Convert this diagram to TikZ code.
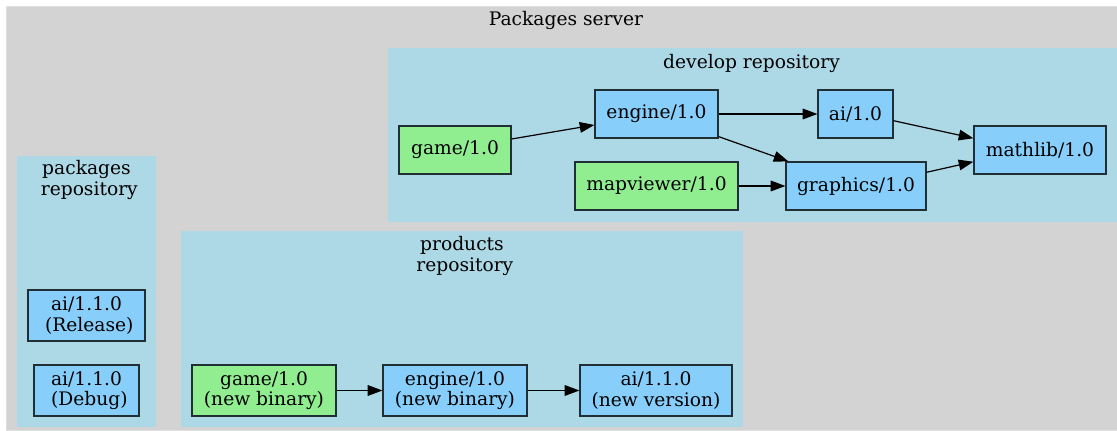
\documentclass[tikz,border=0pt]{standalone}
\usepackage{fontspec}
\setmainfont{DejaVu Serif}
\usetikzlibrary{arrows.meta}
\definecolor{lgray}{HTML}{D3D3D3}
\definecolor{lblue}{HTML}{ADD8E6}
\definecolor{lsky}{HTML}{87CEFA}
\definecolor{lgreen}{HTML}{90EE90}
\definecolor{edgec}{HTML}{1F2F33}
\tikzset{
  pkg/.style={draw=edgec, line width=0.9pt, rectangle, inner sep=0pt, align=center, font=\fontsize{14pt}{15.5pt}\selectfont},
  blue/.style={pkg, fill=lsky},
  green/.style={pkg, fill=lgreen},
  cluster/.style={fill=lblue, draw=none},
  title/.style={font=\fontsize{14pt}{15.5pt}\selectfont, align=center, inner sep=0pt},
  dep/.style={-{Triangle[length=11pt,width=8pt]}, line width=0.9pt, black}
}
\begin{document}
\begin{tikzpicture}[x=0.75pt,y=-0.75pt]
\useasboundingbox (0,0) rectangle (1117,431);
\fill[white] (0,0) rectangle (1117,431);
% outer cluster
\filldraw[fill=lgray, draw=lgray!70!white, line width=0.6pt] (6,6) rectangle (1120,430);
\node[title] (tserver) at (566,20) {Packages server};
% clusters
\fill[cluster] (388,48) rectangle (1117,222);
\node[title] (tdev) at (751.5,63) {develop repository};
\fill[cluster] (17,156) rectangle (156,427);
\node[title] (tpkg) at (86.5,180) {packages\\\hspace*{0.3em}repository};
\fill[cluster] (181,231) rectangle (743,427);
\node[title] (tprod) at (462,256) {products\\\hspace*{0.3em}repository};
% develop nodes
\node[green, minimum width=84pt, minimum height=36pt] (game) at (455,150) {game/1.0};
\node[blue, minimum width=92.25pt, minimum height=36pt] (engine) at (656.5,114) {engine/1.0};
\node[blue, minimum width=56.25pt, minimum height=36pt] (ai) at (855.5,114) {ai/1.0};
\node[blue, minimum width=99pt, minimum height=36pt] (mathlib) at (1040,150) {mathlib/1.0};
\node[green, minimum width=122.25pt, minimum height=36pt] (mapviewer) at (656.5,186) {mapviewer/1.0};
\node[blue, minimum width=105pt, minimum height=36pt] (graphics) at (856,186) {graphics/1.0};
% packages nodes
\node[blue, minimum width=87.75pt, minimum height=38.25pt] (airel) at (86.5,315.5) {ai/1.1.0\\\hspace*{0.3em}(Release)};
\node[blue, minimum width=78.75pt, minimum height=38.25pt] (aidbg) at (86.5,390.5) {ai/1.1.0\\\hspace*{0.3em}(Debug)};
% products nodes
\node[green, minimum width=108pt, minimum height=38.25pt] (gamenb) at (264,390.5) {game/1.0\\(new binary)};
\node[blue, minimum width=108pt, minimum height=38.25pt] (enginenb) at (455,390.5) {engine/1.0\\(new binary)};
\node[blue, minimum width=114pt, minimum height=38.25pt] (ainv) at (656,390.5) {ai/1.1.0\\(new version)};
% edges
\draw[dep] (game.11) -- (engine.190);
\draw[dep] (engine.east) -- (ai.west);
\draw[dep] (engine.-20) -- (graphics.160);
\draw[dep] (ai.-10) -- (mathlib.170);
\draw[dep] (graphics.11) -- (mathlib.190);
\draw[dep] (mapviewer.east) -- (graphics.west);
\draw[dep] (gamenb.east) -- (enginenb.west);
\draw[dep] (enginenb.east) -- (ainv.west);
\end{tikzpicture}
\end{document}
